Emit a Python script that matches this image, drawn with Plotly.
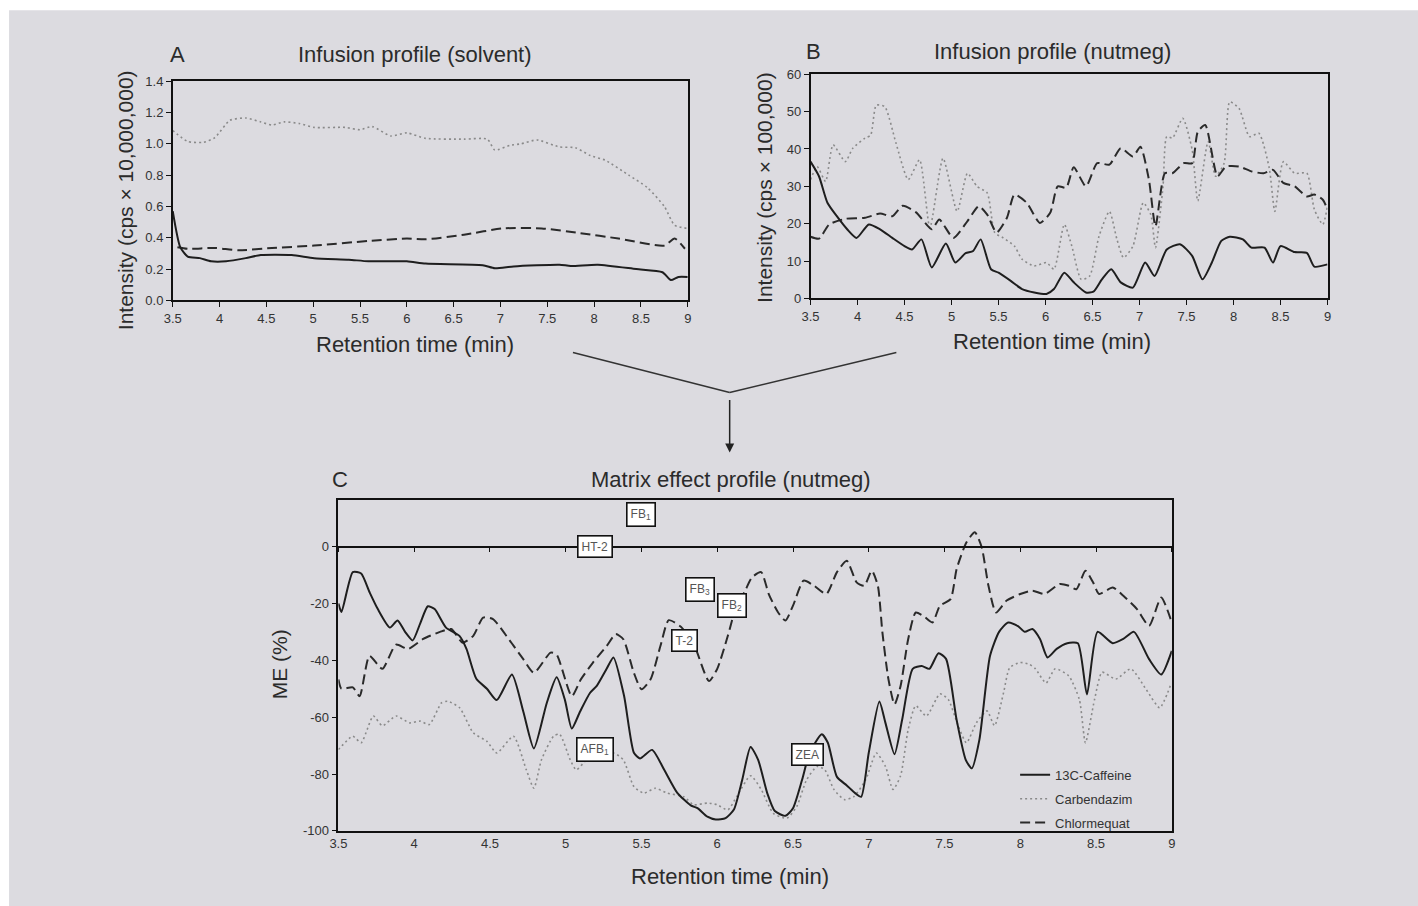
import plotly.graph_objects as go

# The photographed region is the page plus a thin frame, scaled into 1418 x 906.
PW, PH = 1418, 906
FRAME = 8
SX = PW / (PW + 2 * FRAME) * 1.004
SY = PH / (PH + 2 * FRAME)
W, H = PW + FRAME, PH + FRAME          # figure size on the page
FONT = "Liberation Sans Narrow, Arial Narrow, Liberation Sans, Arial, sans-serif"
TXT = "#2b2b2b"

# ---------------- Panel A: infusion profile (solvent), cps x 10,000,000 ----------------
a_caff_x = [3.5, 3.58, 3.66, 3.79, 3.91, 4.07, 4.28, 4.44, 4.77, 5.01, 5.38, 5.59, 6.0, 6.2, 6.81,
            6.94, 7.14, 7.63, 7.75, 8.04, 8.45, 8.73, 8.82, 8.9, 9.0]
a_caff_y = [0.57, 0.34, 0.28, 0.27, 0.25, 0.25, 0.27, 0.29, 0.29, 0.27, 0.26, 0.25, 0.25, 0.235, 0.225,
            0.205, 0.217, 0.228, 0.22, 0.228, 0.2, 0.18, 0.13, 0.15, 0.15]
a_chlor_x = [3.55, 3.66, 3.95, 4.2, 4.56, 5.01, 5.59, 6.0, 6.2, 6.61, 7.03, 7.44, 7.85, 8.26, 8.75, 8.86, 8.97]
a_chlor_y = [0.34, 0.33, 0.335, 0.32, 0.335, 0.35, 0.38, 0.395, 0.39, 0.42, 0.46, 0.46, 0.43, 0.395, 0.35, 0.395, 0.33]
a_carb_x = [3.5, 3.66, 3.83, 3.95, 4.11, 4.28, 4.44, 4.56, 4.69, 4.85, 5.01, 5.34, 5.5, 5.63, 5.83, 6.0,
            6.2, 6.61, 6.86, 6.94, 7.1, 7.22, 7.39, 7.63, 7.8, 7.96, 8.12, 8.37, 8.57, 8.75, 8.86, 9.0]
a_carb_y = [1.085, 1.015, 1.01, 1.04, 1.15, 1.165, 1.14, 1.12, 1.14, 1.13, 1.105, 1.105, 1.09, 1.11, 1.05, 1.07,
            1.035, 1.03, 1.03, 0.96, 0.99, 1.0, 1.025, 0.98, 0.975, 0.925, 0.895, 0.8, 0.72, 0.6, 0.48, 0.46]

# ---------------- Panel B: infusion profile (nutmeg), cps x 100,000 ----------------
b_caff_x = [3.5, 3.59, 3.68, 3.78, 3.89, 3.99, 4.12, 4.24, 4.37, 4.5, 4.58, 4.68, 4.79, 4.94, 5.04, 5.15,
            5.23, 5.31, 5.42, 5.5, 5.63, 5.75, 5.88, 6.01, 6.09, 6.2, 6.3, 6.43, 6.51, 6.6, 6.7, 6.8,
            6.93, 7.06, 7.16, 7.29, 7.43, 7.56, 7.67, 7.77, 7.87, 7.96, 8.1, 8.19, 8.33, 8.42, 8.5,
            8.65, 8.78, 8.86, 9.0]
b_caff_y = [36.6, 32.7, 25.6, 22, 18.5, 16.2, 19.8, 18.5, 16.2, 14, 13.1, 15.8, 8.3, 14.7, 9.6, 12.1,
            12.7, 15.8, 7.8, 6.9, 4.7, 2.5, 1.6, 1.2, 2.5, 6.9, 4.3, 1.6, 1.8, 5.1, 7.8, 4.3,
            2.9, 9.6, 6.0, 13.1, 14.5, 11.4, 5.1, 9.6, 15.4, 16.5, 15.8, 13.6, 13.6, 9.6, 14,
            12.4, 12.2, 8.5, 9.1]
b_chlor_x = [3.5, 3.59, 3.7, 3.87, 4.08, 4.24, 4.37, 4.48, 4.62, 4.79, 4.87, 5.02, 5.17, 5.29, 5.38, 5.48,
             5.59, 5.67, 5.8, 5.94, 6.05, 6.13, 6.22, 6.3, 6.43, 6.55, 6.68, 6.8, 6.93, 7.01, 7.1, 7.17,
             7.27, 7.35, 7.47, 7.56, 7.62, 7.7, 7.83, 7.92, 8.06, 8.19, 8.32, 8.42, 8.53, 8.65, 8.78,
             8.86, 8.95, 9.0]
b_chlor_y = [16.5, 16, 19.8, 21.3, 21.6, 22.7, 22, 24.8, 23.1, 18.5, 21.1, 16.2, 20.7, 24.7, 22.4, 17.6,
             21.6, 27.8, 25.6, 20.2, 22.9, 30, 29.6, 35.1, 30, 36.2, 35.8, 40.2, 38, 40.6, 31.8, 19.3,
             33.5, 33.5, 36.2, 36.2, 44.6, 46.4, 32.7, 35.3, 35.3, 34, 33.5, 34.4, 30.9, 30, 27.3,
             27.8, 26.4, 23.8]
b_carb_x = [3.5, 3.57, 3.66, 3.74, 3.87, 3.95, 4.08, 4.14, 4.2, 4.29, 4.41, 4.54, 4.66, 4.77, 4.91, 5.06,
            5.17, 5.27, 5.38, 5.46, 5.55, 5.67, 5.75, 5.88, 6.01, 6.09, 6.2, 6.28, 6.38, 6.47, 6.57,
            6.68, 6.76, 6.83, 6.93, 7.04, 7.12, 7.17, 7.25, 7.29, 7.35, 7.46, 7.56, 7.62, 7.73, 7.81,
            7.9, 7.96, 8.06, 8.17, 8.27, 8.38, 8.44, 8.53, 8.65, 8.78, 8.86, 8.95, 9.0]
b_carb_y = [31.8, 35.3, 31.3, 41.1, 36.6, 40.2, 42.9, 43.7, 51.7, 51.3, 41.5, 31.8, 37.1, 18.9, 37.5, 23.3,
            33.5, 30, 28.2, 17.6, 16.2, 14, 10.5, 8.7, 9.6, 7.8, 19.8, 14, 5.1, 6.0, 16.7,
            23.3, 15.8, 10.9, 14, 25.6, 22.4, 13.6, 30, 43.3, 42.9, 48.2, 39.8, 26.1, 42, 32.7,
            36.2, 52.6, 50.8, 43.3, 44.2, 34.9, 23.3, 36.6, 33.5, 33.5, 23.8, 19.8, 24.7]

# ---------------- Panel C: matrix effect profile (nutmeg), ME % ----------------
c_caff_x = [3.5, 3.52, 3.595, 3.65, 3.705, 3.76, 3.84, 3.89, 3.94, 3.99, 4.04, 4.09, 4.135, 4.21, 4.3,
            4.345, 4.41, 4.48, 4.545, 4.645, 4.72, 4.79, 4.875, 4.94, 4.995, 5.04, 5.095, 5.16, 5.205,
            5.27, 5.315, 5.385, 5.45, 5.49, 5.57, 5.65, 5.735, 5.825, 5.87, 5.935, 5.99, 6.055, 6.11,
            6.165, 6.22, 6.27, 6.33, 6.38, 6.45, 6.5, 6.56, 6.61, 6.69, 6.73, 6.79, 6.855, 6.91, 6.95,
            7.0, 7.07, 7.11, 7.17, 7.22, 7.29, 7.35, 7.4, 7.46, 7.51, 7.58, 7.64, 7.68, 7.73, 7.8, 7.86,
            7.92, 7.985, 8.03, 8.08, 8.13, 8.18, 8.24, 8.31, 8.38, 8.44, 8.51, 8.61, 8.68, 8.75, 8.85,
            8.93, 9.0]
c_caff_y = [-20, -23, -9, -9.5, -16, -22, -28.5, -26, -30, -33, -27, -21, -22, -28.5, -31.5,
            -36, -46.5, -50, -54, -45, -58, -71, -55, -46, -54, -64, -58, -51.5, -49,
            -43, -39, -52.5, -72.5, -74.5, -71.5, -78.5, -86.5, -91, -92, -95, -96, -95.5, -92.5,
            -82, -70.5, -75, -86.7, -93, -94.7, -92, -82, -72.5, -66, -69, -81, -84, -86.7, -88,
            -72.5, -54.5, -62, -73, -61, -43, -42, -43, -37.5, -39.5, -61, -75, -78, -68, -38.5, -30,
            -26.7, -28, -30, -29, -32.5, -39, -36, -34, -34, -52, -30, -34, -32.5, -30, -39.6,
            -45, -36.7]
c_chlor_x = [3.5, 3.52, 3.595, 3.64, 3.705, 3.79, 3.88, 3.96, 4.06, 4.17, 4.245, 4.32, 4.39, 4.455, 4.52,
             4.63, 4.72, 4.79, 4.9, 4.94, 5.04, 5.1, 5.18, 5.27, 5.33, 5.38, 5.45, 5.5, 5.56, 5.625,
             5.68, 5.76, 5.85, 5.945, 6.0, 6.07, 6.12, 6.18, 6.23, 6.29, 6.34, 6.4, 6.45, 6.5, 6.57,
             6.64, 6.72, 6.79, 6.855, 6.92, 6.97, 7.02, 7.06, 7.09, 7.13, 7.17, 7.21, 7.26, 7.31, 7.36,
             7.42, 7.47, 7.54, 7.58, 7.645, 7.7, 7.745, 7.79, 7.84, 7.91, 8.0, 8.08, 8.16, 8.26, 8.32,
             8.37, 8.43, 8.48, 8.52, 8.61, 8.68, 8.77, 8.85, 8.93, 9.0]
c_chlor_y = [-46.7, -50, -49.5, -52.6, -38.5, -43, -34.5, -36, -32.5, -30, -29, -33.8, -31.4, -25, -25.5,
             -33, -39.6, -44.4, -37.3, -38, -52.6, -46.7, -40.8, -35, -30.8, -32.6, -44.4, -50.2, -46.7, -35,
             -25.9, -28.2, -35, -47.3, -43, -31.4, -22, -16, -10.8, -9, -16.7, -23, -26, -20.8, -12,
             -13.8, -16.7, -9, -5, -12.6, -13.8, -8.5, -13.8, -30.2, -46.7, -55.5, -49, -32.6, -23.2, -24.4,
             -26.7, -20.8, -18.5, -7.9, 1.5, 5, -0.2, -13.8, -23.2, -19, -16.7, -15.5, -16.7, -13.2, -13.8,
             -15, -8.5, -12.6, -16.7, -14.4, -17.3, -22, -27.9, -17.9, -26.7]
c_carb_x = [3.5, 3.595, 3.65, 3.73, 3.79, 3.88, 3.97, 4.04, 4.1, 4.18, 4.22, 4.3, 4.39, 4.48, 4.545,
            4.655, 4.74, 4.79, 4.84, 4.92, 4.96, 5.03, 5.07, 5.14, 5.315, 5.38, 5.45, 5.515, 5.59, 5.67,
            5.78, 5.845, 5.935, 6.0, 6.07, 6.13, 6.22, 6.29, 6.37, 6.46, 6.525, 6.59, 6.66, 6.71, 6.77,
            6.84, 6.9, 6.98, 7.05, 7.11, 7.16, 7.21, 7.26, 7.31, 7.38, 7.47, 7.525, 7.59, 7.645, 7.71,
            7.78, 7.83, 7.89, 7.93, 8.0, 8.06, 8.1, 8.17, 8.23, 8.32, 8.39, 8.43, 8.49, 8.54, 8.63,
            8.73, 8.83, 8.92, 8.99]
c_carb_y = [-71.4, -66.7, -69, -59.6, -63, -59.6, -62, -61.4, -62.6, -55, -54.4, -56.7, -65.5, -68.5, -72.6,
            -66.7, -78.5, -85, -75, -66.7, -66, -75, -78.5, -75, -72.6, -75, -84.4, -86.7, -85, -86.7,
            -88, -90.8, -90.2, -90.8, -92.6, -87.8, -80.6, -85.4, -93.8, -95.5, -91.4, -82, -77.3, -78.5, -85.4,
            -89, -88, -82, -72.6, -77.3, -85.4, -80.6, -64.4, -56, -59.6, -51.8, -53.8, -63, -69, -62,
            -57.8, -63, -51.3, -42.6, -40.8, -41.4, -43, -48, -43, -45.5, -53.8, -69, -53.8, -44.2, -46.6,
            -43, -50.2, -56.7, -49]

# labelled analytes in panel C: (label, retention time, ME position)
c_labels = ["FB<sub>1</sub>", "HT-2", "FB<sub>3</sub>", "FB<sub>2</sub>", "T-2", "AFB<sub>1</sub>", "ZEA"]
c_label_x = [5.50, 5.19, 5.885, 6.095, 5.785, 5.19, 6.595]
c_label_y = [11.3, 0.0, -15.2, -20.8, -33.2, -71.4, -73.1]

series_names = ["13C-Caffeine", "Carbendazim", "Chlormequat"]
x_ticks = [3.5, 4, 4.5, 5, 5.5, 6, 6.5, 7, 7.5, 8, 8.5, 9]
c_y_ticks = [0, -20, -40, -60, -80, -100]
c_y_ticktext = ["0", "-20", "-40", "-60", "-80", "-100"]

styles = {
    "13C-Caffeine": dict(color="#1e1e1e", width=2.0, dash="solid"),
    "Carbendazim": dict(color="#8a8a8a", width=1.6, dash="2px,3px"),
    "Chlormequat": dict(color="#2a2a2a", width=2.0, dash="10px,5px"),
}

def px(x):
    """picture pixel x -> paper fraction"""
    return (x / SX - FRAME) / W

def py(y):
    """picture pixel y -> paper fraction"""
    return 1 - (y / SY - FRAME) / H

fig = go.Figure()

def add(xs, ys, name, xa, ya):
    st = styles[name]
    fig.add_trace(go.Scatter(
        x=xs, y=ys, mode="lines", name=name, xaxis=xa, yaxis=ya, showlegend=False,
        line=dict(color=st["color"], width=st["width"], dash=st["dash"], shape="spline", smoothing=0.6),
        hoverinfo="x+y+name"))

add(a_carb_x, a_carb_y, "Carbendazim", "x", "y")
add(a_chlor_x, a_chlor_y, "Chlormequat", "x", "y")
add(a_caff_x, a_caff_y, "13C-Caffeine", "x", "y")

add(b_carb_x, b_carb_y, "Carbendazim", "x2", "y2")
add(b_chlor_x, b_chlor_y, "Chlormequat", "x2", "y2")
add(b_caff_x, b_caff_y, "13C-Caffeine", "x2", "y2")

add(c_carb_x, c_carb_y, "Carbendazim", "x3", "y3")
add(c_chlor_x, c_chlor_y, "Chlormequat", "x3", "y3")
add(c_caff_x, c_caff_y, "13C-Caffeine", "x3", "y3")

# legend-only entries in the order of the reference
for nm in series_names:
    st = styles[nm]
    fig.add_trace(go.Scatter(x=[None], y=[None], mode="lines", name=nm, xaxis="x3", yaxis="y3",
                             legendgroup=nm,
                             line=dict(color=st["color"], width=st["width"], dash=st["dash"]),
                             showlegend=True))

# invisible trace for zero-line axis
fig.add_trace(go.Scatter(x=[None], y=[None], xaxis="x4", yaxis="y3", showlegend=False, hoverinfo="skip"))

tickfont = dict(family=FONT, size=13, color="#333")
ax_common = dict(showline=True, linecolor="#111", linewidth=1.5, mirror=True, ticks="outside",
                 ticklen=5, tickwidth=1, tickcolor="#111", showgrid=False, zeroline=False,
                 tickfont=tickfont)

fig.update_layout(
    width=W, height=H,
    margin=dict(l=0, r=0, t=0, b=0),
    paper_bgcolor="white", plot_bgcolor="white",
    font=dict(family=FONT, color=TXT),
    xaxis=dict(domain=[px(172), px(688)], range=[3.5, 9], tickvals=x_ticks, anchor="y", **ax_common),
    yaxis=dict(domain=[py(301), py(82)], range=[0, 1.4], dtick=0.2, tickformat=".1f", anchor="x", **ax_common),
    xaxis2=dict(domain=[px(811), px(1329)], range=[3.5, 9], tickvals=x_ticks, anchor="y2", **ax_common),
    yaxis2=dict(domain=[py(299), py(75)], range=[0, 60], dtick=10, anchor="x2", **ax_common),
    xaxis3=dict(domain=[px(338), px(1173)], range=[3.5, 9], tickvals=x_ticks, anchor="y3",
                **{**ax_common, "ticks": ""}),
    yaxis3=dict(domain=[py(831), py(500)], range=[-100, 16.5], tickvals=c_y_ticks, ticktext=c_y_ticktext,
                anchor="x3", **ax_common),
    xaxis4=dict(overlaying="x3", anchor="free", position=py(547), range=[3.5, 9], tickvals=x_ticks,
                showticklabels=False, showline=True, linecolor="#111", linewidth=1.5, ticks="outside",
                ticklen=5, tickcolor="#111", showgrid=False, zeroline=False, side="bottom"),
    legend=dict(x=px(1016), y=py(760), xanchor="left", yanchor="top", bgcolor="rgba(0,0,0,0)",
                font=dict(family=FONT, size=13, color="#333"), itemwidth=30, tracegroupgap=4),
)

# grey background panel
fig.add_shape(type="rect", xref="paper", yref="paper", x0=max(px(8), 0), x1=1, y0=0, y1=py(11),
              fillcolor="#dcdbe0", line=dict(width=0), layer="below")

# connector lines and arrow
line_st = dict(color="#333", width=1.5)
fig.add_shape(type="line", xref="paper", yref="paper", x0=px(573), y0=py(353), x1=px(730), y1=py(393), line=line_st)
fig.add_shape(type="line", xref="paper", yref="paper", x0=px(897), y0=py(353), x1=px(730), y1=py(393), line=line_st)
fig.add_annotation(xref="paper", yref="paper", x=px(730), y=py(453), ax=0, ay=-61, text=" ",
                   showarrow=True, arrowhead=2, arrowsize=1.2, arrowwidth=1.5, arrowcolor="#222")

def text(x, y, t, size=22, angle=0, xanchor="center"):
    fig.add_annotation(xref="paper", yref="paper", x=px(x), y=py(y), text=t, showarrow=False,
                       textangle=angle, xanchor=xanchor, yanchor="middle",
                       font=dict(family=FONT, size=size, color=TXT))

# panel titles
text(167, 55, "A", 22, xanchor="left")
text(415, 55, "Infusion profile (solvent)", 22)
text(804, 52, "B", 22, xanchor="left")
text(1053, 52, "Infusion profile (nutmeg)", 22)
text(330, 480, "C", 22, xanchor="left")
text(731, 480, "Matrix effect profile (nutmeg)", 22)

# axis titles
text(415, 345, "Retention time (min)", 22)
text(1053, 342, "Retention time (min)", 22)
text(730, 877, "Retention time (min)", 22)
text(124, 201, "Intensity (cps × 10,000,000)", 21, angle=-90)
text(765, 188, "Intensity (cps × 100,000)", 21, angle=-90)
text(279, 665, "ME (%)", 21, angle=-90)

# analyte boxes in panel C
for lab, lx, ly in zip(c_labels, c_label_x, c_label_y):
    fig.add_annotation(xref="x3", yref="y3", x=lx, y=ly, text=lab, showarrow=False,
                       font=dict(family=FONT, size=12, color="#555"),
                       bgcolor="white", bordercolor="#111", borderwidth=1.6, borderpad=3)

post = """
var gd = document.getElementsByClassName('plotly-graph-div')[0];
document.documentElement.style.margin = '0';
document.documentElement.style.overflow = 'hidden';
document.body.style.margin = '0';
document.body.style.padding = '0';
document.body.style.overflow = 'hidden';
gd.style.position = 'absolute';
gd.style.left = '0px';
gd.style.top = '0px';
"""

fig.write_html("out.html", post_script=post, config={"displayModeBar": False})
